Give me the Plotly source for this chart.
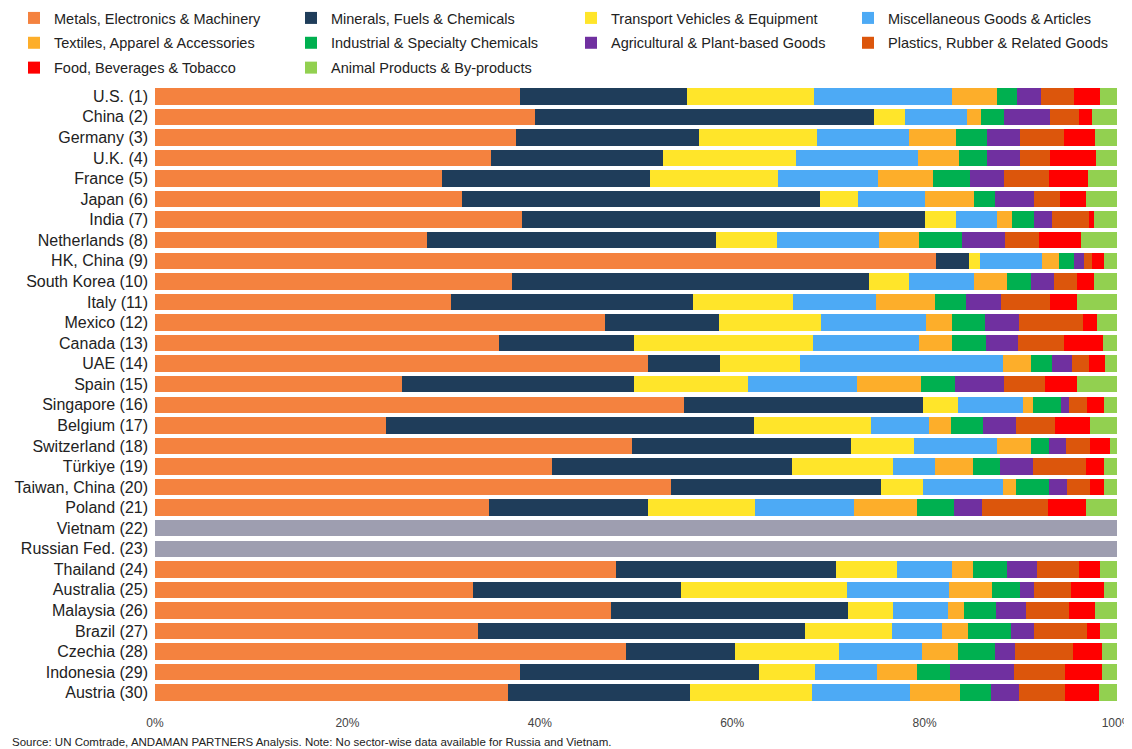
import plotly.graph_objects as go

countries = ["U.S. (1)", "China (2)", "Germany (3)", "U.K. (4)", "France (5)", "Japan (6)", "India (7)",
             "Netherlands (8)", "HK, China (9)", "South Korea (10)", "Italy (11)", "Mexico (12)", "Canada (13)",
             "UAE (14)", "Spain (15)", "Singapore (16)", "Belgium (17)", "Switzerland (18)", "Türkiye (19)",
             "Taiwan, China (20)", "Poland (21)", "Vietnam (22)", "Russian Fed. (23)", "Thailand (24)",
             "Australia (25)", "Malaysia (26)", "Brazil (27)", "Czechia (28)", "Indonesia (29)", "Austria (30)"]

sectors = ["Metals, Electronics & Machinery", "Minerals, Fuels & Chemicals", "Transport Vehicles & Equipment",
           "Miscellaneous Goods & Articles", "Textiles, Apparel & Accessories", "Industrial & Specialty Chemicals",
           "Agricultural & Plant-based Goods", "Plastics, Rubber & Related Goods", "Food, Beverages & Tobacco",
           "Animal Products & By-products"]

colors = ["#F4823F", "#1F3D5A", "#FFE52A", "#4DAAF5", "#FDAE2A", "#00B050", "#7030A0", "#DC560C", "#FF0000", "#92D050"]

# legend column for each sector (4 columns, filled row by row)
legend_ids = ["legend", "legend2", "legend3", "legend4", "legend", "legend2", "legend3", "legend4", "legend", "legend2"]

N = None
metals       = [37.9, 39.5, 37.5, 34.9, 29.8, 31.9, 38.1, 28.3, 81.2, 37.1, 30.8, 46.8, 35.8, 51.2, 25.7, 55.0, 24.0, 49.6, 41.3, 53.6, 34.7, N, N, 47.9, 33.1, 47.4, 33.6, 49.0, 37.9, 36.7]
minerals     = [17.4, 35.2, 19.0, 17.9, 21.7, 37.2, 41.9, 30.0, 3.4, 37.1, 25.1, 11.8, 14.0, 7.5, 24.1, 24.8, 38.3, 22.7, 24.9, 21.9, 16.5, N, N, 22.9, 21.6, 24.6, 34.0, 11.3, 24.9, 18.9]
transport    = [13.2, 3.3, 12.3, 13.8, 13.3, 4.0, 3.3, 6.4, 1.2, 4.2, 10.4, 10.6, 18.6, 8.3, 11.8, 3.7, 12.1, 6.6, 10.5, 4.3, 11.2, N, N, 6.3, 17.2, 4.7, 9.0, 10.8, 5.8, 12.7]
misc         = [14.3, 6.4, 9.6, 12.7, 10.4, 6.9, 4.2, 10.6, 6.4, 6.7, 8.6, 10.9, 11.0, 21.2, 11.4, 6.7, 6.1, 8.6, 4.4, 8.4, 10.3, N, N, 5.7, 10.6, 5.7, 5.2, 8.6, 6.4, 10.2]
textiles     = [4.7, 1.5, 4.9, 4.3, 5.7, 5.1, 1.6, 4.1, 1.8, 3.5, 6.2, 2.7, 3.4, 2.9, 6.6, 1.1, 2.2, 3.6, 3.9, 1.3, 6.5, N, N, 2.2, 4.5, 1.7, 2.7, 3.8, 4.2, 5.2]
industrial   = [2.1, 2.4, 3.2, 2.9, 3.8, 2.2, 2.3, 4.5, 1.5, 2.5, 3.2, 3.5, 3.6, 2.1, 3.6, 2.9, 3.4, 1.8, 2.8, 3.4, 3.9, N, N, 3.6, 2.9, 3.3, 4.5, 3.8, 3.4, 3.2]
agricultural = [2.5, 4.7, 3.4, 3.4, 3.6, 4.1, 1.8, 4.5, 1.1, 2.4, 3.6, 3.5, 3.3, 2.1, 5.1, 0.8, 3.4, 1.8, 3.5, 1.9, 2.9, N, N, 3.1, 1.5, 3.1, 2.4, 2.1, 6.7, 2.9]
plastics     = [3.4, 3.0, 4.6, 3.1, 4.6, 2.7, 3.9, 3.5, 0.8, 2.3, 5.1, 6.7, 4.8, 1.8, 4.2, 1.9, 4.1, 2.5, 5.5, 2.4, 6.8, N, N, 4.3, 3.8, 4.5, 5.5, 6.0, 5.3, 4.8]
food         = [2.7, 1.4, 3.2, 4.8, 4.1, 2.7, 0.5, 4.4, 1.2, 1.8, 2.8, 1.4, 4.0, 1.7, 3.3, 1.7, 3.6, 2.1, 1.8, 1.4, 4.0, N, N, 2.2, 3.4, 2.7, 1.3, 3.0, 3.8, 3.5]
animal       = [1.8, 2.6, 2.3, 2.2, 3.0, 3.2, 2.4, 3.7, 1.4, 2.4, 4.2, 2.1, 1.5, 1.2, 4.2, 1.4, 2.8, 0.7, 1.4, 1.4, 3.2, N, N, 1.8, 1.4, 2.3, 1.8, 1.6, 1.6, 1.9]
no_data      = [N] * 21 + [100, 100] + [N] * 7

series = [metals, minerals, transport, misc, textiles, industrial, agricultural, plastics, food, animal]

FONT = "Liberation Sans Narrow, Arial Narrow, Liberation Sans, Arial, sans-serif"

fig = go.Figure()
for name, vals, col, lg in zip(sectors, series, colors, legend_ids):
    fig.add_trace(go.Bar(y=countries, x=vals, name=name, orientation="h", legend=lg, legendgroup=name,
                         marker=dict(color=col, line=dict(width=0))))
fig.add_trace(go.Bar(y=countries, x=no_data, name="No data", orientation="h", showlegend=False,
                     marker=dict(color="#9E9EB0", line=dict(width=0))))

W, H = 1124, 741
L, R, T, B = 147, 15, 78, 46
pw, ph = W - L - R, H - T - B

def px_x(fx):
    return (fx - L) / pw

def px_y(fy):
    return (H - B - fy) / ph

leg_common = dict(xref="paper", yref="paper", xanchor="left", yanchor="top",
                  orientation="v", font=dict(size=14.5, family=FONT, color="#222222"),
                  bgcolor="rgba(0,0,0,0)", tracegroupgap=3, itemwidth=30, traceorder="grouped")
leg_y = px_y(-6)

fig.update_layout(
    barmode="stack",
    bargap=0.2,
    width=W, height=H,
    plot_bgcolor="white", paper_bgcolor="white",
    margin=dict(l=L, r=R, t=T, b=B, autoexpand=False),
    font=dict(family=FONT, color="#222222"),
    legend=dict(x=px_x(6), y=leg_y, **leg_common),
    legend2=dict(x=px_x(283), y=leg_y, **leg_common),
    legend3=dict(x=px_x(563), y=leg_y, **leg_common),
    legend4=dict(x=px_x(840), y=leg_y, **leg_common),
    xaxis=dict(range=[0, 100], tickvals=[0, 20, 40, 60, 80, 100],
               ticktext=["0%", "20%", "40%", "60%", "80%", "100%"],
               showgrid=False, zeroline=False, showline=False, ticks="",
               ticklabeloverflow="allow",
               tickfont=dict(size=12, color="#444444"), ticklabelstandoff=11),
    yaxis=dict(autorange="reversed", showgrid=False, ticks="", tickfont=dict(size=16, color="#222222"),
               ticklabelstandoff=6),
    annotations=[dict(text="Source: UN Comtrade, ANDAMAN PARTNERS Analysis. Note: No sector-wise data available for Russia and Vietnam.",
                      xref="paper", yref="paper", x=px_x(2), y=px_y(742), xanchor="left", yanchor="bottom",
                      showarrow=False, font=dict(size=11.5, color="#222222", family=FONT))],
)

fig.write_html("out.html")
